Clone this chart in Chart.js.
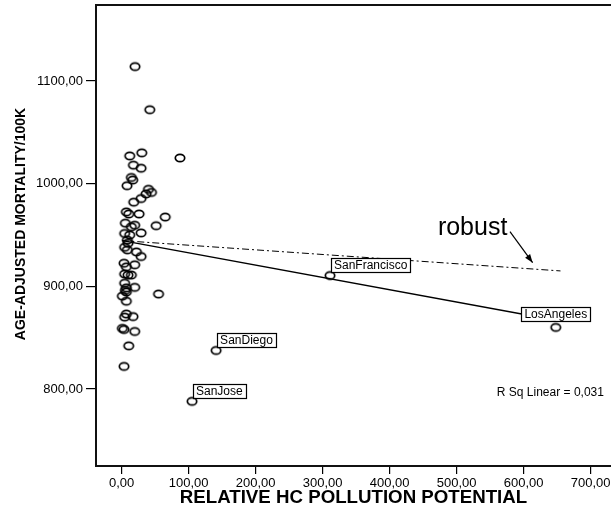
<!DOCTYPE html>
<html><head><meta charset="utf-8">
<script src="https://cdn.jsdelivr.net/npm/chart.js@4/dist/chart.umd.min.js"></script>
<style>html,body{margin:0;padding:0;background:#fff}canvas{display:block}</style>
</head><body>
<canvas id="c" width="611" height="515"></canvas>
<script>
// ---- data ----
const hc   = [20, 42, 12, 30, 87, 17.5, 29, 14.5, 16.5, 8, 40, 44.5, 36.5, 29, 18, 7, 10.5, 26, 65, 5.5,
              19.5, 51.5, 14.5, 4.5, 29, 12, 8.5, 9.5, 4.5, 8.5, 22, 29, 3.5, 7, 19.5, 4.5, 9.5, 14.5, 4.5, 19.5,
              7, 5.5, 7, 1, 7, 55, 7, 4.5, 17, 1, 3.5, 19.5, 10.5, 3.5];
const mort = [1114, 1072, 1027, 1030, 1025, 1018, 1015, 1006, 1003.5, 998, 994.5, 991.5, 990, 985.5, 982, 972.5, 970.5, 970.5, 967.5, 961.5,
              959.5, 959, 958, 951.5, 952, 950, 945, 942, 938, 935.5, 933.5, 929, 922.5, 919, 921, 912, 911, 911, 903, 899,
              898.5, 896, 894.5, 890.5, 885.5, 892.5, 873, 870, 870.5, 859, 858, 856, 842, 822];
const cityNames = ['SanJose', 'SanDiego', 'SanFrancisco', 'LosAngeles'];
const cityHC    = [105, 141, 311, 648];
const cityMort  = [788, 837.5, 910.5, 860];
const fitHC     = [1, 648];
const fitMort   = [944.5, 867];
const robustHC  = [1, 655];
const robustMort= [944.5, 915];
const xTicks = [0, 100, 200, 300, 400, 500, 600, 700];
const yTicks = [800, 900, 1000, 1100];
const xTitle = 'RELATIVE HC POLLUTION POTENTIAL';
const yTitle = 'AGE-ADJUSTED MORTALITY/100K';
const rSqText = 'R Sq Linear = 0,031';
const robustText = 'robust';

// ---- styles / placement ----
const FONT = 'Arial, "Liberation Sans", sans-serif';
const labelPlacement = {SanJose: 'right', SanDiego: 'right', SanFrancisco: 'right', LosAngeles: 'center'};
const note = {textX: 472, textY: 950, arrowFrom: [579.6, 953.2], arrowTo: [613.4, 923]};
const rSqPos = {x: 560, y: 796};

function ring() {
  const c = document.createElement('canvas');
  c.width = 14; c.height = 12;
  const g = c.getContext('2d');
  g.strokeStyle = '#000'; g.lineWidth = 1.7;
  g.beginPath(); g.ellipse(7, 6, 4.7, 3.7, 0, 0, Math.PI * 2); g.stroke();
  return c;
}
const fmt = v => Number(v).toFixed(2).replace('.', ',');

const pts = hc.map((x, i) => ({x, y: mort[i]}))
  .concat(cityHC.map((x, i) => ({x, y: cityMort[i]})));

const decor = {
  id: 'decor',
  afterDraw(chart) {
    const {ctx, chartArea: a, scales: {x, y}} = chart;
    ctx.save();
    // frame (left, top, bottom; right is off-canvas)
    ctx.strokeStyle = '#111'; ctx.lineWidth = 2;
    ctx.strokeRect(a.left, a.top, a.right - a.left + 20, a.bottom - a.top);
    // y title
    ctx.save();
    ctx.translate(20.8, 224);
    ctx.rotate(-Math.PI / 2);
    ctx.font = 'bold 14px ' + FONT;
    ctx.fillStyle = '#000'; ctx.textAlign = 'center'; ctx.textBaseline = 'middle';
    ctx.fillText(yTitle, 0, 0);
    ctx.restore();
    // city labels
    ctx.font = '12px ' + FONT;
    ctx.textBaseline = 'middle'; ctx.textAlign = 'left';
    cityNames.forEach((n, i) => {
      const px = x.getPixelForValue(cityHC[i]);
      const py = y.getPixelForValue(cityMort[i]);
      const w = ctx.measureText(n).width + 6, h = 14;
      let bx, by;
      if (labelPlacement[n] === 'center') { bx = px - w / 2; by = py - 6.5 - h; }
      else { bx = px + 1; by = py - 3.5 - h; }
      ctx.fillStyle = '#fff'; ctx.fillRect(bx, by, w, h);
      ctx.strokeStyle = '#000'; ctx.lineWidth = 1.2;
      ctx.strokeRect(Math.round(bx) + 0.5, Math.round(by) + 0.5, Math.round(w), h);
      ctx.fillStyle = '#000';
      ctx.fillText(n, bx + 3, by + h / 2 + 0.5);
    });
    // R Sq text
    ctx.font = '12px ' + FONT;
    ctx.fillText(rSqText, x.getPixelForValue(rSqPos.x), y.getPixelForValue(rSqPos.y));
    // robust note
    ctx.font = '25px ' + FONT;
    ctx.textBaseline = 'alphabetic';
    ctx.fillText(robustText, x.getPixelForValue(note.textX), y.getPixelForValue(note.textY));
    const x1 = x.getPixelForValue(note.arrowFrom[0]), y1 = y.getPixelForValue(note.arrowFrom[1]);
    const x2 = x.getPixelForValue(note.arrowTo[0]), y2 = y.getPixelForValue(note.arrowTo[1]);
    ctx.strokeStyle = '#000'; ctx.lineWidth = 1.2;
    ctx.beginPath(); ctx.moveTo(x1, y1); ctx.lineTo(x2, y2); ctx.stroke();
    const ang = Math.atan2(y2 - y1, x2 - x1), L = 9, W = 0.35;
    ctx.beginPath();
    ctx.moveTo(x2, y2);
    ctx.lineTo(x2 - L * Math.cos(ang - W), y2 - L * Math.sin(ang - W));
    ctx.lineTo(x2 - L * Math.cos(ang + W), y2 - L * Math.sin(ang + W));
    ctx.closePath(); ctx.fillStyle = '#000'; ctx.fill();
    ctx.restore();
  }
};

new Chart(document.getElementById('c'), {
  type: 'scatter',
  data: {
    datasets: [
      {data: pts, pointStyle: ring(), pointRadius: 5, showLine: false},
      {data: fitHC.map((v, i) => ({x: v, y: fitMort[i]})), showLine: true, pointRadius: 0,
       borderColor: '#000', borderWidth: 1.5},
      {data: robustHC.map((v, i) => ({x: v, y: robustMort[i]})), showLine: true, pointRadius: 0,
       borderColor: '#000', borderWidth: 1, borderDash: [7, 3, 2, 3]}
    ]
  },
  options: {
    responsive: false, animation: false, devicePixelRatio: 1,
    layout: {autoPadding: false, padding: {top: 5, left: 0, right: 0, bottom: 0}},
    plugins: {legend: {display: false}, tooltip: {enabled: false}},
    scales: {
      x: {
        type: 'linear', min: -38.3, max: 730.4,
        afterBuildTicks: s => { s.ticks = xTicks.map(v => ({value: v})); },
        afterFit: s => { s.height = 49; s.paddingLeft = 0; s.paddingRight = 0; },
        border: {display: false},
        grid: {drawOnChartArea: false, drawTicks: true, tickLength: 8, color: '#000', lineWidth: 1.2},
        ticks: {font: {family: FONT, size: 13}, color: '#000', padding: 2, maxRotation: 0, autoSkip: false,
                callback: v => fmt(v)},
        title: {display: true, text: xTitle, color: '#000', font: {family: FONT, size: 18.7, weight: 'bold'},
                padding: {top: 0, bottom: 6}}
      },
      y: {
        type: 'linear', min: 725, max: 1174,
        afterBuildTicks: s => { s.ticks = yTicks.map(v => ({value: v})); },
        afterFit: s => { s.width = 96; s.paddingTop = 0; s.paddingBottom = 0; },
        border: {display: false},
        grid: {drawOnChartArea: false, drawTicks: true, tickLength: 10, color: '#000', lineWidth: 1.2},
        ticks: {font: {family: FONT, size: 13}, color: '#000', padding: 3, autoSkip: false,
                callback: v => fmt(v)}
      }
    }
  },
  plugins: [decor]
});
</script>
</body></html>
